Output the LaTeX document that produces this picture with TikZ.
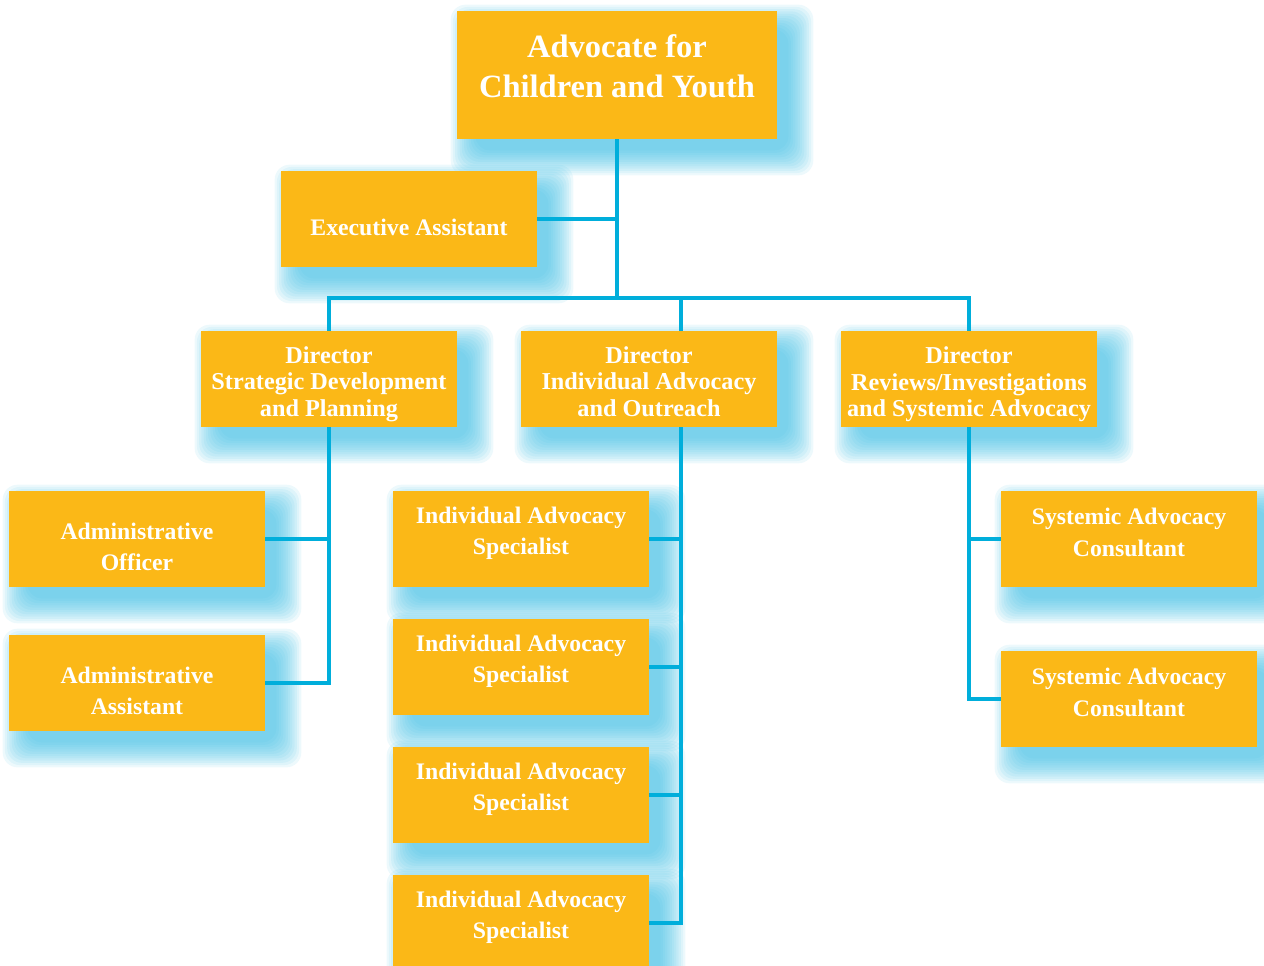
\documentclass[tikz,border=0pt]{standalone}
\usepackage{fontspec}
\setmainfont{Liberation Serif}
\usetikzlibrary{positioning, calc, backgrounds}
\definecolor{boxgold}{HTML}{FBB817}
\definecolor{linkcyan}{HTML}{00AEDB}
\definecolor{glowcyan}{HTML}{3DBDE3}

\tikzset{
  unit/.style={fill=boxgold, text=white, inner sep=0pt, align=center,
    minimum width=5.12cm, minimum height=1.92cm,
    font=\fontsize{13.5}{18}\selectfont\bfseries},
  director/.style={unit, font=\fontsize{13.8}{15}\selectfont\bfseries},
  link/.style={draw=linkcyan, line width=2.3pt},
  % texto un poco mas arriba o mas abajo
  liftup/.style={execute at end node={\rule[-#1]{0pt}{0pt}}},
  pushdown/.style={execute at begin node={\rule{0pt}{#1}}}
}

\begin{document}
\begin{tikzpicture}
          \useasboundingbox (0,0) rectangle (25.28,-19.3);

          % Advocate y asistente
          \node[unit, minimum width=6.4cm, minimum height=2.56cm, font=\fontsize{18.5}{23}\selectfont\bfseries, liftup=10pt] (adv) at (12.34,-1.5) {Advocate for\\Children and Youth};
          \node[unit, pushdown=18.5pt] (exec) at (8.18,-4.38) {Executive Assistant};

          % Directores
          \node[director, pushdown=45.5pt] (dsd) at (6.58,-7.58) {Director\\Strategic Development\\and Planning};
          \node[director, pushdown=45.5pt, liftup=3pt] (dia) at (12.98,-7.58) {Director\\Individual Advocacy\\and Outreach};
          \node[director, pushdown=45.5pt] (dri) at (19.38,-7.58) {Director\\Reviews/Investigations\\and Systemic Advocacy};

          % Personal de cada director
          \node[unit, pushdown=36.5pt] (offi) at (2.74,-10.78) {Administrative\\Officer};
          \node[unit, pushdown=36.5pt] (assi) at (2.74,-13.66) {Administrative\\Assistant};
          \node[unit, liftup=9.5pt] (ias1) at (10.42,-10.78) {Individual Advocacy\\Specialist};
          \node[unit, liftup=9.5pt] (ias2) at (10.42,-13.34) {Individual Advocacy\\Specialist};
          \node[unit, liftup=9.5pt] (ias3) at (10.42,-15.90) {Individual Advocacy\\Specialist};
          \node[unit, liftup=9.5pt] (ias4) at (10.42,-18.46) {Individual Advocacy\\Specialist};
          \node[unit, liftup=8pt] (sac1) at (22.58,-10.78) {Systemic Advocacy\\Consultant};
          \node[unit, liftup=8pt] (sac2) at (22.58,-13.98) {Systemic Advocacy\\Consultant};

          % Puntos de los conectores
          \coordinate (hub) at (12.34,-5.96);
          \coordinate (iabus) at (13.62,-5.96);

          \begin{scope}[on background layer]
            % Sombra difusa
            \foreach \n in {adv,exec,dsd,dia,dri,offi,assi,ias1,ias2,ias3,ias4,sac1,sac2}{
              \foreach \k in {0,...,11}{
                \pgfmathsetmacro{\e}{0.42-\k*0.045}
                \fill[glowcyan, opacity=0.09, rounded corners=0.3cm]
                  ($(\n.south west)+(0.3-\e,-0.3-\e)$) rectangle ($(\n.north east)+(0.3+\e,-0.3+\e)$);
              }
            }

            % Conectores
            \draw[link] (adv.south) -- (hub);
            \draw[link] (exec.east) -- (exec.east -| hub);
            \draw[link] (dsd.north) |- (hub) -| (dri.north);
            \draw[link] (iabus) -- (dia.north -| iabus);
            \draw[link] (dsd.south) |- (assi.east);
            \draw[link] (offi.east) -- (offi.east -| dsd.south);
            \draw[link] (dia.south -| iabus) |- (ias4.east);
            \foreach \n in {ias1,ias2,ias3}
              \draw[link] (\n.east) -- (\n.east -| iabus);
            \draw[link] (dri.south) |- (sac2.west);
            \draw[link] (sac1.west) -- (sac1.west -| dri.south);
          \end{scope}
        \end{tikzpicture}
\end{document}
